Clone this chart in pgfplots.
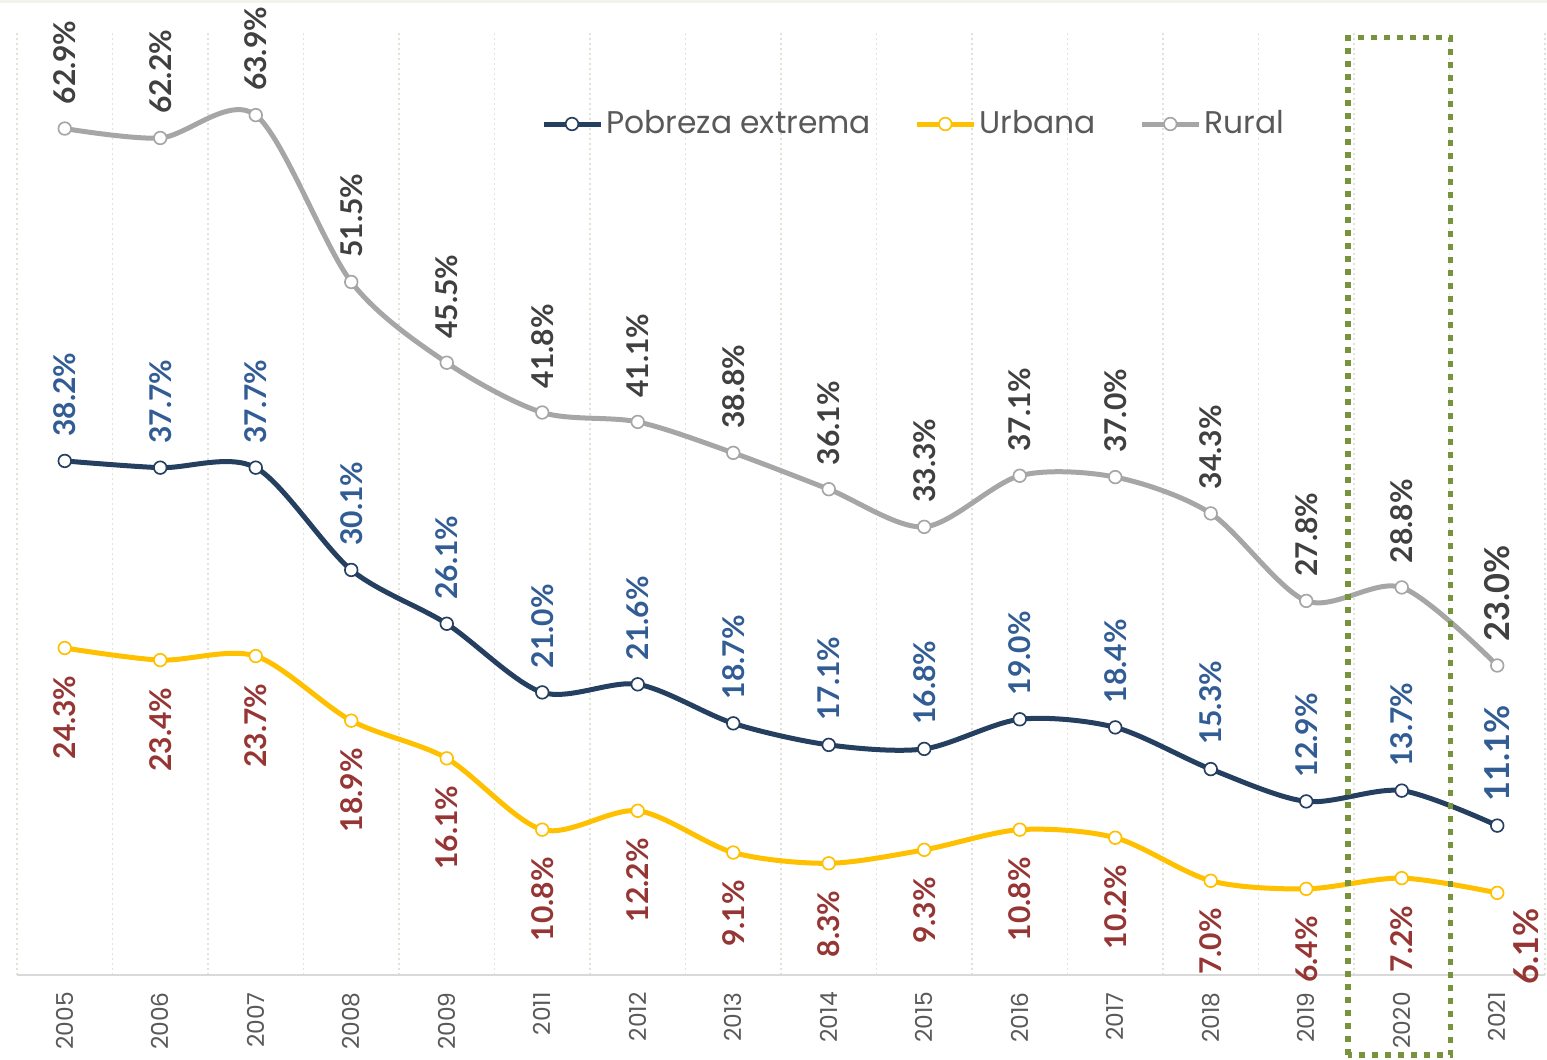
\documentclass[border=0pt]{standalone}
\usepackage{pgfplots}
\pgfplotsset{compat=1.18}
\usepackage{pgfplotstable}
\usepackage{fontspec}
\setmainfont{Poppins}
\newfontfamily\lblfont{Lato}

\definecolor{navy}{HTML}{253F60}
\definecolor{gold}{HTML}{FFC000}
\definecolor{grayline}{HTML}{A6A6A6}
\definecolor{lblgray}{HTML}{404040}
\definecolor{lblblue}{HTML}{325C94}
\definecolor{lblred}{HTML}{963634}
\definecolor{gridc}{HTML}{E2E2D6}
\definecolor{boxgreen}{HTML}{77933C}
\definecolor{tickc}{HTML}{595959}
\definecolor{band}{HTML}{F4F2EC}

% x = position, 2010 missing in the series
\pgfplotstableread{
x  pobreza urbana rural
0  38.2    24.3   62.9
1  37.7    23.4   62.2
2  37.7    23.7   63.9
3  30.1    18.9   51.5
4  26.1    16.1   45.5
5  21.0    10.8   41.8
6  21.6    12.2   41.1
7  18.7    9.1    38.8
8  17.1    8.3    36.1
9  16.8    9.3    33.3
10 19.0    10.8   37.1
11 18.4    10.2   37.0
12 15.3    7.0    34.3
13 12.9    6.4    27.8
14 13.7    7.2    28.8
15 11.1    6.1    23.0
}\datatab

\pgfplotsset{
  lbl/.style={
    point meta=y,
    visualization depends on={rawx \as \myx},
    nodes near coords={\lblfont\bfseries\ifdim\myx pt>14.5pt\fontsize{10.3}{12}\selectfont\else\fontsize{9}{10}\selectfont\fi\pgfmathprintnumber[fixed,fixed zerofill,precision=1,assume math mode=true]{\pgfplotspointmeta}\%},
  },
  serie/.style={#1, line width=1.5pt, smooth, mark=*, mark size=1.9pt,
    mark options={fill=white, draw=#1, line width=0.5pt, solid}},
}
\newcommand{\yr}[1]{\textnormal{#1}}

\begin{document}
\begin{tikzpicture}
\begin{axis}[
  scale only axis,
  width=458.4pt, height=282.6pt,
  xmin=-0.5, xmax=15.5, ymin=0, ymax=70,
  clip=false,
  /pgf/number format/assume math mode=true,
  axis x line*=bottom, axis y line=none,
  x axis line style={draw=gray!30, line width=0.6pt},
  xtick={0,...,15},
  xticklabels={\yr{2005},\yr{2006},\yr{2007},\yr{2008},\yr{2009},\yr{2011},\yr{2012},\yr{2013},\yr{2014},\yr{2015},\yr{2016},\yr{2017},\yr{2018},\yr{2019},\yr{2020},\yr{2021}},
  minor xtick={-0.5,0.5,...,15.5},
  xminorgrids,
  ytick={10,20,...,70}, yticklabels={}, ymajorgrids,
  major tick length=0pt, minor tick length=0pt,
  major grid style={gridc, dash pattern=on 0.6pt off 0.9pt, line width=0.5pt},
  minor grid style={gridc, dash pattern=on 0.6pt off 0.9pt, line width=0.5pt},
  x tick label style={yshift=-5pt, rotate=90, anchor=east, inner sep=0pt,
    font=\fontsize{7}{8}\selectfont, text=tickc},
  legend columns=3,
  legend style={at={(rel axis cs:0.336,0.9034)}, anchor=west, draw=none, fill=none,
    font=\fontsize{9.4}{11}\selectfont, text=tickc,
    nodes={inner sep=1pt},
    /tikz/every even column/.append style={column sep=12pt}},
]
\addplot[serie=navy, lbl,
  every node near coord/.append style={text=lblblue, rotate=90, anchor=west,
    inner xsep=7pt, inner ysep=0pt}]
  table[x=x, y=pobreza]{\datatab};
\addlegendentry{Pobreza extrema}
\addplot[serie=gold, lbl,
  every node near coord/.append style={text=lblred,
    xshift={(\myx>14.5)*8.7pt}, yshift={(\myx>14.5)*3.5pt},
    rotate=90, anchor=east, inner xsep=8pt, inner ysep=0pt}]
  table[x=x, y=urbana]{\datatab};
\addlegendentry{Urbana}
\addplot[serie=grayline, lbl,
  every node near coord/.append style={text=lblgray, rotate=90, anchor=west,
    inner xsep=7pt, inner ysep=0pt}]
  table[x=x, y=rural]{\datatab};
\addlegendentry{Rural}

\draw[boxgreen, line width=1.7pt, dash pattern=on 1.8pt off 2.1pt]
  (axis cs:13.44,-5.95) rectangle (axis cs:14.51,69.66);
\end{axis}
\fill[band] (-5.1pt,291.6pt) rectangle (459pt,292.5pt);
\pgfresetboundingbox
\useasboundingbox (-5.1pt,-25.5pt) rectangle (459pt,292.5pt);
\end{tikzpicture}
\end{document}
